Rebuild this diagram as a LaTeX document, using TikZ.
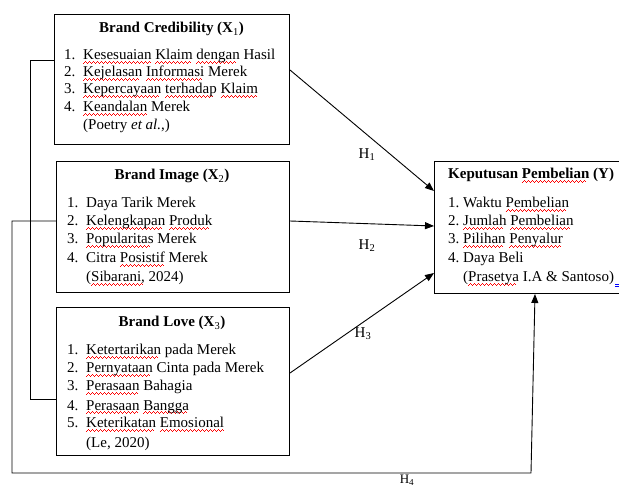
\documentclass[tikz,border=0pt]{standalone}
\usepackage{fontspec}
\setmainfont{Liberation Serif}
\usepackage{xcolor}
\usetikzlibrary{arrows.meta}
\newsavebox\wvbox
\newcommand\wvpat{\hbox to 4pt{\rule[-3.6pt]{1pt}{0.7pt}\rule[-2.9pt]{1pt}{0.7pt}\rule[-2.2pt]{1pt}{0.7pt}\rule[-2.9pt]{1pt}{0.7pt}}}
\newcommand\wv[1]{\sbox\wvbox{#1}\rlap{\color{red}\hbox to \wd\wvbox{\leaders\wvpat\hfill}}\usebox\wvbox}
\newcommand\litem[6]{\node[txt] (#1a) at (#2,#4) {#5}; \node[txt] (#1b) at (#3,#4) {#6};}
\tikzset{
  box/.style={draw, line width=1pt, inner sep=0pt, anchor=north west},
  txt/.style={anchor=base west, inner sep=0pt, font=\fontsize{15}{18}\selectfont},
  ttl/.style={anchor=base, inner sep=0pt, font=\fontsize{15}{18}\selectfont\bfseries},
  hlab/.style={inner sep=0pt, font=\fontsize{15}{18}\selectfont},
  conn/.style={line width=0.9pt},
  arr/.style={conn, -{Triangle[length=9pt,width=7pt]}}
}
\begin{document}
\begin{tikzpicture}[x=1pt,y=-1pt]
\useasboundingbox (0,0) rectangle (619,486);
% boxes
\node[box, minimum width=235pt, minimum height=130pt] (x1) at (54,14) {};
\node[box, minimum width=233pt, minimum height=131pt] (x2) at (56,161) {};
\node[box, minimum width=233pt, minimum height=148pt] (x3) at (56,307) {};
\node[box, minimum width=186pt, minimum height=132pt] (y) at (434,161) {};
% X1
\node[ttl] (x1t) at (171.5,33) {Brand Credibility (X\textsubscript{\mdseries 1})};
\litem{x1l1}{64}{83}{60}{1.}{\wv{Kesesuaian} \wv{Klaim} \wv{dengan} Hasil}
\litem{x1l2}{64}{83}{77}{2.}{\wv{Kejelasan} \wv{Informasi} Merek}
\litem{x1l3}{64}{83}{94}{3.}{\wv{Kepercayaan} \wv{terhadap} \wv{Klaim}}
\litem{x1l4}{64}{83}{112}{4.}{\wv{Keandalan} Merek}
\node[txt] (x1c) at (83,130) {(Poetry \textit{et al.},)};
% X2
\node[ttl] (x2t) at (172,180) {Brand Image (X\textsubscript{\mdseries 2})};
\litem{x2l1}{67}{86}{208}{1.}{Daya Tarik Merek}
\litem{x2l2}{67}{86}{226}{2.}{\wv{Kelengkapan} \wv{Produk}}
\litem{x2l3}{67}{86}{244}{3.}{\wv{Popularitas} Merek}
\litem{x2l4}{67}{86}{263}{4.}{Citra \wv{Posistif} Merek}
\node[txt] (x2c) at (86,282) {(\wv{Sibarani,} 2024)};
% X3
\node[ttl] (x3t) at (172,327) {Brand Love (X\textsubscript{\mdseries 3})};
\litem{x3l1}{67}{86}{355}{1.}{\wv{Ketertarikan} pada Merek}
\litem{x3l2}{67}{86}{373}{2.}{\wv{Pernyataan} Cinta pada Merek}
\litem{x3l3}{67}{86}{391}{3.}{\wv{Perasaan} Bahagia}
\litem{x3l4}{67}{86}{410}{4.}{\wv{Perasaan} \wv{Bangga}}
\litem{x3l5}{67}{86}{428}{5.}{\wv{Keterikatan} \wv{Emosional}}
\node[txt] (x3c) at (86,447) {(Le, 2020)};
% Y
\node[txt, font=\fontsize{15}{18}\selectfont\bfseries] (yt) at (448,179) {Keputusan \wv{Pembelian} (Y)};
\litem{yl1}{448}{463}{208}{1.}{Waktu \wv{Pembelian}}
\litem{yl2}{448}{463}{226}{2.}{\wv{Jumlah} \wv{Pembelian}}
\litem{yl3}{448}{463}{244}{3.}{\wv{Pilihan} \wv{Penyalur}}
\litem{yl4}{448}{463}{263}{4.}{Daya Beli}
\node[txt] (yc) at (463,282) {(\wv{Prasetya} I.A \& Santoso)};
\draw[blue, line width=0.6pt] ([xshift=1pt,yshift=-2pt]yc.base east) -- ++(8,0)
  ([xshift=1pt,yshift=-4pt]yc.base east) -- ++(8,0);
% labels
\node[hlab] (h1) at (367,155) {H\textsubscript{1}};
\node[hlab] (h2) at (367,246) {H\textsubscript{2}};
\node[hlab] (h3) at (363,334) {H\textsubscript{3}};
\node[hlab, font=\fontsize{13}{15}\selectfont, anchor=north] (h4) at (407,474.5) {H\textsubscript{4}};
% arrows
\draw[arr] ([yshift=-56pt]x1.north east) -- ([yshift=-30pt]y.north west);
\draw[arr] ([yshift=-60pt]x2.north east) -- ([yshift=-65pt]y.north west);
\draw[arr] ([yshift=-66pt]x3.north east) -- ([yshift=-112pt]y.north west);
% brackets
\coordinate (b1) at (30,399);
\draw[conn] ([yshift=-46pt]x1.north west) -| (b1) -- ([yshift=-92pt]x3.north west);
\coordinate (b2) at (12,473);
\coordinate (b3) at (531,473);
\draw[arr] ([yshift=-60pt]x2.north west) -| (b2) -- (b3) -- ([xshift=101pt]y.south west);
\end{tikzpicture}
\end{document}
